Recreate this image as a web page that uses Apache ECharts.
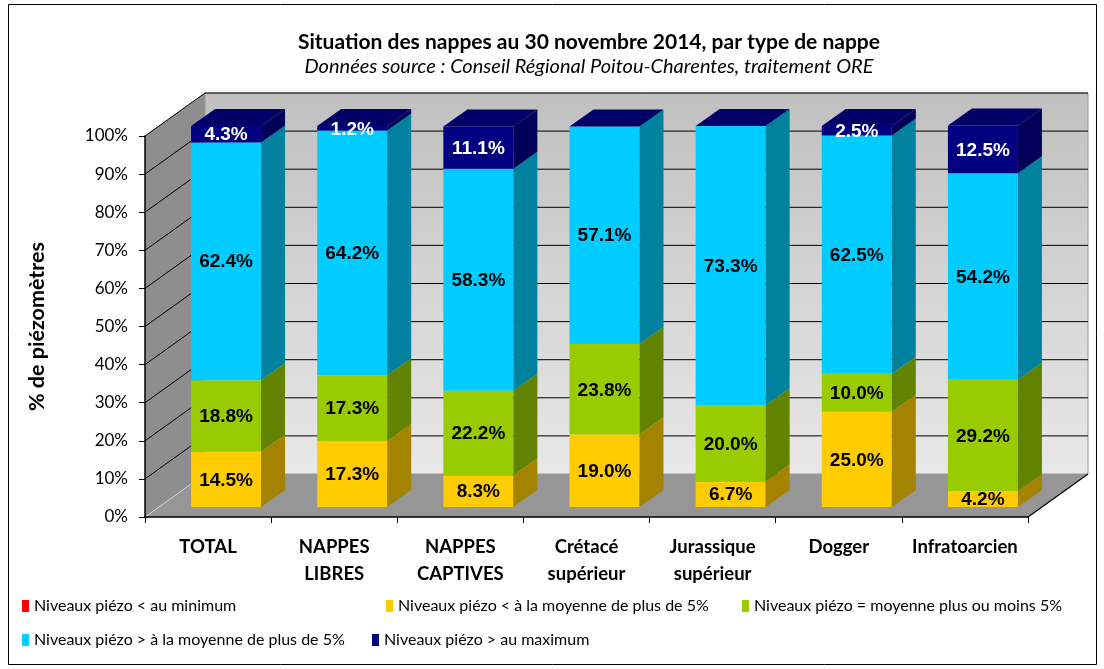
<!DOCTYPE html>
<html>
<head>
<meta charset="utf-8">
<script src="https://cdn.jsdelivr.net/npm/echarts@6/dist/echarts.min.js"></script>
<style>
  html, body { margin: 0; padding: 0; background: #fff; }
  #chart { width: 1104px; height: 669px; }
</style>
</head>
<body>
<div id="chart"></div>
<script>
// données
var categories = ['TOTAL', 'NAPPES\nLIBRES', 'NAPPES\nCAPTIVES', 'Crétacé\nsupérieur', 'Jurassique\nsupérieur', 'Dogger', 'Infratoarcien'];
var seriesNames = [
  'Niveaux piézo < au minimum',
  'Niveaux piézo < à la moyenne de plus de 5%',
  'Niveaux piézo = moyenne plus ou moins 5%',
  'Niveaux piézo > à la moyenne de plus de 5%',
  'Niveaux piézo > au maximum'
];
var belowMin = [0, 0, 0, 0, 0, 0, 0];
var belowMean = [14.5, 17.3, 8.3, 19.0, 6.7, 25.0, 4.2];
var nearMean = [18.8, 17.3, 22.2, 23.8, 20.0, 10.0, 29.2];
var aboveMean = [62.4, 64.2, 58.3, 57.1, 73.3, 62.5, 54.2];
var aboveMax = [4.3, 1.2, 11.1, 0, 0, 2.5, 12.5];
var gridLevels = [10, 20, 30, 40, 50, 60, 70, 80, 90, 100];

var values = [belowMin, belowMean, nearMean, aboveMean, aboveMax];
var faces = [
  { front: '#FF0000', side: '#A00000', top: '#C00000', label: '#000' },
  { front: '#FFCC00', side: '#A38300', top: '#C9A200', label: '#000' },
  { front: '#99CC00', side: '#628300', top: '#7AA300', label: '#000' },
  { front: '#00CCFF', side: '#00829F', top: '#00A3C9', label: '#000' },
  { front: '#000080', side: '#000058', top: '#000066', label: '#fff' }
];

// géométrie pseudo 3D
var WALL_DX = 60, WALL_DY = -43;
var BAR_W = 70, BAR_OX = 18, BAR_OY = -10;
var BAR_DX = 24, BAR_DY = -17;

var chart = echarts.init(document.getElementById('chart'));

function renderWalls(params, api) {
  var cs = params.coordSys;
  var L = cs.x, R = cs.x + cs.width, T = cs.y, B = cs.y + cs.height;
  var children = [];
  children.push({
    type: 'polygon',
    shape: { points: [[L, B], [L, T], [L + WALL_DX, T + WALL_DY], [L + WALL_DX, B + WALL_DY]] },
    style: { fill: '#8E8E8E' }
  });
  children.push({
    type: 'rect',
    shape: { x: L + WALL_DX, y: T + WALL_DY, width: R - L, height: B - T },
    style: {
      fill: new echarts.graphic.LinearGradient(0, 0, 0, 1, [
        { offset: 0, color: '#C0C0C0' },
        { offset: 1, color: '#E8E8E8' }
      ]),
      stroke: '#9A9A9A', lineWidth: 1
    }
  });
  children.push({
    type: 'polygon',
    shape: { points: [[L, B], [R, B], [R + WALL_DX, B + WALL_DY], [L + WALL_DX, B + WALL_DY]] },
    style: { fill: '#969696' }
  });
  children.push({
    type: 'line',
    shape: { x1: L, y1: B, x2: L + WALL_DX, y2: B + WALL_DY },
    style: { stroke: '#D0D0D0', lineWidth: 1 }
  });
  children.push({
    type: 'line',
    shape: { x1: R, y1: B, x2: R + WALL_DX, y2: B + WALL_DY },
    style: { stroke: '#000', lineWidth: 1.2 }
  });
  gridLevels.forEach(function (v) {
    var y = api.coord([0, v])[1];
    children.push({
      type: 'polyline',
      shape: { points: [[L, y], [L + WALL_DX, y + WALL_DY], [R + WALL_DX, y + WALL_DY]] },
      style: { stroke: '#000', lineWidth: 1, fill: null }
    });
  });
  return { type: 'group', children: children };
}

function makeRender(k) {
  return function (params, api) {
    var cat = api.value(0), lo = api.value(1), hi = api.value(2);
    var pLo = api.coord([cat, lo]), pHi = api.coord([cat, hi]);
    var x0 = pLo[0] - BAR_W / 2 + BAR_OX, x1 = x0 + BAR_W;
    var yb = pLo[1] + BAR_OY, yt = pHi[1] + BAR_OY;
    var f = faces[k];
    var children = [];
    if (hi > lo) {
      children.push({
        type: 'rect',
        shape: { x: x0, y: yt, width: BAR_W, height: yb - yt },
        style: { fill: f.front }
      });
      children.push({
        type: 'polygon',
        shape: { points: [[x1, yb], [x1, yt], [x1 + BAR_DX, yt + BAR_DY], [x1 + BAR_DX, yb + BAR_DY]] },
        style: { fill: f.side }
      });
    }
    if (k === values.length - 1) {
      children.push({
        type: 'polygon',
        shape: { points: [[x0, yt], [x1, yt], [x1 + BAR_DX, yt + BAR_DY], [x0 + BAR_DX, yt + BAR_DY]] },
        style: { fill: f.top }
      });
    }
    var v = hi - lo;
    if (v > 0.05) {
      children.push({
        type: 'text',
        style: {
          x: (x0 + x1) / 2, y: (yt + yb) / 2 + 1,
          text: v.toFixed(1) + '%',
          fill: f.label,
          font: 'bold 19px "Liberation Sans", Arial, sans-serif',
          align: 'center', verticalAlign: 'middle'
        },
        z2: 10
      });
    }
    return { type: 'group', children: children };
  };
}

var series = [{
  type: 'custom',
  name: 'walls',
  silent: true,
  renderItem: renderWalls,
  data: [[0, 0]],
  z: 1
}];
var base = categories.map(function () { return 0; });
values.forEach(function (arr, k) {
  var data = arr.map(function (v, i) {
    var d = [i, base[i], base[i] + v];
    base[i] += v;
    return d;
  });
  series.push({
    type: 'custom',
    name: seriesNames[k],
    itemStyle: { color: faces[k].front },
    renderItem: makeRender(k),
    data: data,
    z: 2
  });
});

var legendFont = { fontFamily: 'Lato, sans-serif', fontSize: 16, color: '#000' };
function legendAt(name, left, top) {
  return {
    data: [name], left: left, top: top, icon: 'rect',
    itemWidth: 7, itemHeight: 12, itemGap: 0, padding: 0,
    selectedMode: false, textStyle: legendFont
  };
}

chart.setOption({
  animation: false,
  backgroundColor: '#fff',
  title: [{
    text: 'Situation des nappes au 30 novembre 2014, par type de nappe',
    left: 584, top: 27, textAlign: 'center',
    textStyle: { fontFamily: 'Lato, sans-serif', fontSize: 21, fontWeight: 'bold', color: '#000' }
  }, {
    text: 'Données source : Conseil Régional Poitou-Charentes, traitement ORE',
    left: 584, top: 52, textAlign: 'center',
    textStyle: { fontFamily: 'Lato, sans-serif', fontSize: 20, fontStyle: 'italic', fontWeight: 'normal', color: '#000' }
  }],
  legend: [
    legendAt(seriesNames[0], 22, 598),
    legendAt(seriesNames[1], 386, 598),
    legendAt(seriesNames[2], 742, 598),
    legendAt(seriesNames[3], 22, 632),
    legendAt(seriesNames[4], 372, 632)
  ],
  grid: { left: 145, right: 76, top: 136, bottom: 152 },
  xAxis: {
    type: 'category',
    data: categories,
    z: 10,
    axisLine: { lineStyle: { color: '#000', width: 1.5 } },
    axisTick: { show: true, length: 6, lineStyle: { color: '#000' } },
    axisLabel: {
      margin: 17, interval: 0, color: '#000', lineHeight: 27,
      fontFamily: 'Lato, sans-serif', fontSize: 18.5, fontWeight: 'bold'
    },
    splitLine: { show: false }
  },
  yAxis: {
    type: 'value',
    min: 0, max: 100, interval: 10,
    z: 10,
    name: '% de piézomètres',
    nameLocation: 'middle',
    nameRotate: 90,
    nameGap: 97,
    nameTextStyle: { fontFamily: 'Lato, sans-serif', fontSize: 21.5, fontWeight: 'bold', color: '#000' },
    axisLine: { show: true, lineStyle: { color: '#000', width: 1.5 } },
    axisTick: { show: true, length: 6, lineStyle: { color: '#000' } },
    axisLabel: { formatter: '{value}%', margin: 17, color: '#000', fontFamily: 'Lato, sans-serif', fontSize: 17 },
    splitLine: { show: false }
  },
  graphic: [{
    type: 'rect',
    shape: { x: 8.5, y: 4.5, width: 1088, height: 660 },
    style: { fill: null, stroke: '#000', lineWidth: 1 },
    silent: true, z: 100
  }],
  series: series
});
</script>
</body>
</html>
